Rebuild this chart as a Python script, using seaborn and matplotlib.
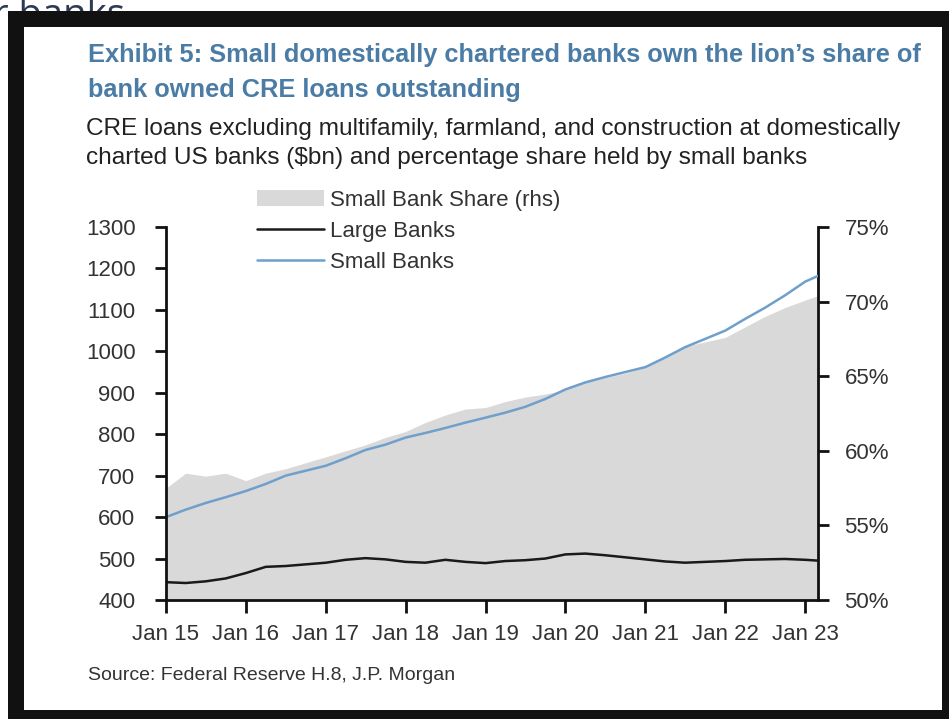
import numpy as np
import pandas as pd
import matplotlib
matplotlib.use("Agg")
import matplotlib.pyplot as plt
import matplotlib.dates as mdates
from matplotlib.patches import Rectangle, Patch
from matplotlib.lines import Line2D
from matplotlib.ticker import FuncFormatter
import seaborn as sns

# ---------------- data ----------------
dates = pd.date_range("2015-01-01", "2023-01-01", freq="QS").tolist() + [pd.Timestamp("2023-03-01")]
small_banks = [600, 618, 634, 648,
               663, 680, 700, 712,
               724, 742, 762, 775,
               792, 803, 815, 828,
               840, 852, 866, 885,
               908, 925, 938, 950,
               962, 985, 1010, 1030,
               1050, 1078, 1105, 1135,
               1168, 1182]
large_banks = [443, 441, 445, 452,
               465, 480, 482, 486,
               490, 497, 501, 498,
               492, 490, 497, 492,
               489, 494, 496, 500,
               510, 512, 508, 503,
               498, 493, 490, 492,
               494, 497, 498, 499,
               497, 495]
small_share = [57.5, 58.5, 58.3, 58.5,
               58.0, 58.5, 58.8, 59.2,
               59.6, 60.0, 60.4, 60.9,
               61.3, 61.9, 62.4, 62.8,
               62.9, 63.3, 63.6, 63.8,
               64.1, 64.6, 64.9, 65.2,
               65.6, 66.3, 67.0, 67.3,
               67.6, 68.3, 69.0, 69.6,
               70.1, 70.4]
left_ticks = [400, 500, 600, 700, 800, 900, 1000, 1100, 1200, 1300]
right_ticks = [50, 55, 60, 65, 70, 75]
year_ticks = pd.date_range("2015-01-01", "2023-01-01", freq="YS")
legend_labels = ["Small Bank Share (rhs)", "Large Banks", "Small Banks"]

title_lines = ["Exhibit 5: Small domestically chartered banks own the lion\u2019s share of",
               "bank owned CRE loans outstanding"]
subtitle_lines = ["CRE loans excluding multifamily, farmland, and construction at domestically",
                  "charted US banks ($bn) and percentage share held by small banks"]
source_text = "Source: Federal Reserve H.8, J.P. Morgan"

# ---------------- style ----------------
sns.set_style("ticks")
plt.rcParams["font.family"] = ["Liberation Sans", "DejaVu Sans"]

W, H = 949, 719
fig = plt.figure(figsize=(W / 100, H / 100), dpi=100)
fig.patch.set_facecolor("white")

def fx(px):
    return px / W

def fy(py):
    return 1 - py / H

# cropped heading text from the page above the screenshot
fig.text(fx(-7), fy(26), "r banks", fontsize=27.5, family=["Open Sans", "DejaVu Sans"],
         color="#2c3a56", zorder=-3, va="baseline", ha="left")
# black frame and white inner card
fig.patches.append(Rectangle((fx(8), 0), 1 - fx(8), fy(11), transform=fig.transFigure,
                             facecolor="#111111", edgecolor="none", zorder=-2))
fig.patches.append(Rectangle((fx(24), fy(710)), fx(942) - fx(24), fy(27) - fy(710),
                             transform=fig.transFigure, facecolor="white",
                             edgecolor="none", zorder=-1))

# ---------------- axes ----------------
ax = fig.add_axes([fx(166), fy(600), fx(818) - fx(166), fy(227) - fy(600)])
ax2 = ax.twinx()

ax2.fill_between(dates, 50, small_share, color="#d9d9d9", linewidth=0)
ax2.set_ylim(50, 75)

df = pd.DataFrame({"date": dates * 2,
                   "value": large_banks + small_banks,
                   "series": ["Large Banks"] * len(dates) + ["Small Banks"] * len(dates)})
sns.lineplot(data=df, x="date", y="value", hue="series",
             palette={"Large Banks": "#1a1a1a", "Small Banks": "#6f9fcb"},
             linewidth=1.8, legend=False, ax=ax)

ax.set_zorder(ax2.get_zorder() + 1)
ax.patch.set_visible(False)

ax.set_xlim(dates[0], dates[-1])
ax.set_ylim(400, 1300)
ax.set_yticks(left_ticks)
ax2.set_yticks(right_ticks)
ax2.yaxis.set_major_formatter(FuncFormatter(lambda v, p: f"{v:.0f}%"))
ax.set_xticks(year_ticks)
ax.xaxis.set_major_formatter(mdates.DateFormatter("Jan %y"))
ax.set_xlabel("")
ax.set_ylabel("")
ax2.set_ylabel("")

for a in (ax, ax2):
    for s in a.spines.values():
        s.set_visible(False)
ax.spines["left"].set_visible(True)
ax.spines["bottom"].set_visible(True)
ax2.spines["right"].set_visible(True)
for s in (ax.spines["left"], ax.spines["bottom"], ax2.spines["right"]):
    s.set_linewidth(2)
    s.set_color("#111111")

tick_color = "#333333"
ax.tick_params(axis="y", direction="out", length=8, width=2, pad=14, labelsize=16,
               labelcolor=tick_color, color="#111111")
ax.tick_params(axis="x", direction="out", length=9, width=2, pad=8, labelsize=16,
               labelcolor=tick_color, color="#111111")
ax2.tick_params(axis="y", direction="out", length=8, width=2, pad=11, labelsize=16,
                labelcolor=tick_color, color="#111111")

# ---------------- legend ----------------
handles = [Patch(facecolor="#d9d9d9", edgecolor="none"),
           Line2D([0], [0], color="#1a1a1a", lw=1.8),
           Line2D([0], [0], color="#6f9fcb", lw=1.8)]
fig.legend(handles, legend_labels, loc="upper left", bbox_to_anchor=(fx(257), fy(190)),
           frameon=False, fontsize=16, handlelength=3.0, handletextpad=0.3,
           labelspacing=0.45, borderpad=0, borderaxespad=0, labelcolor="#333333")

# ---------------- texts ----------------
title_color = "#4a7ca5"
fig.text(fx(88), fy(62), title_lines[0], fontsize=18.3, fontweight="bold",
         color=title_color, va="baseline")
fig.text(fx(88), fy(97), title_lines[1], fontsize=18.3, fontweight="bold",
         color=title_color, va="baseline")
fig.text(fx(86), fy(135), subtitle_lines[0], fontsize=17.6, color="#222222", va="baseline")
fig.text(fx(86), fy(164), subtitle_lines[1], fontsize=17.6, color="#222222", va="baseline")
fig.text(fx(88), fy(680), source_text, fontsize=14, color="#333333", va="baseline")

fig.savefig("out.png", dpi=100, facecolor="white")
